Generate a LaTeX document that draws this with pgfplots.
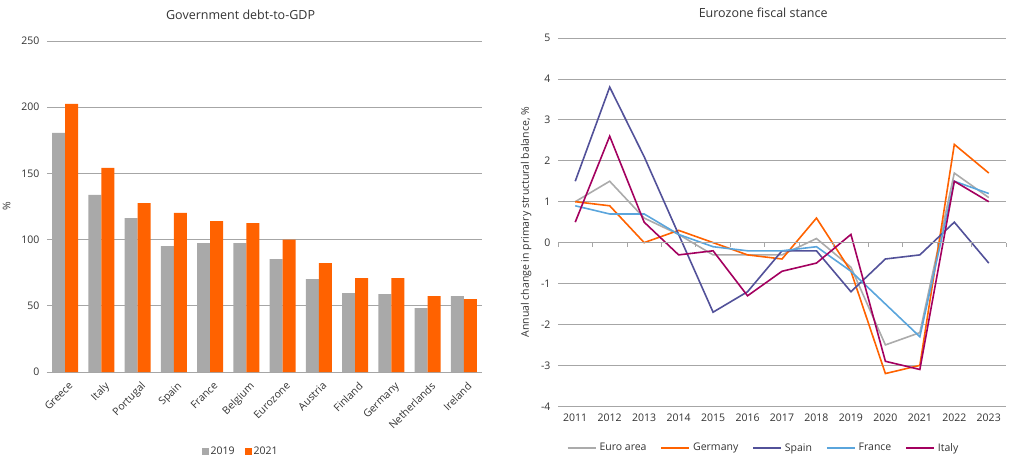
\documentclass[border=0pt]{standalone}
\usepackage{pgfplots}
\pgfplotsset{compat=1.18}
\usepackage{fontspec}
\setmainfont{Open Sans}
\definecolor{barGray}{HTML}{A9A9A9}
\definecolor{ingOrange}{HTML}{FF6200}
\definecolor{lineGray}{HTML}{ABABAB}
\definecolor{spainBlue}{HTML}{525199}
\definecolor{franceBlue}{HTML}{5AA5DC}
\definecolor{italyPurple}{HTML}{A3005F}
\definecolor{gridGray}{HTML}{A6A6A6}
\definecolor{txt}{HTML}{333333}

\pgfplotstableread{
idx y2019 y2021
0 180.6 202.6
1 133.7 154.1
2 116.3 127.6
3 95.1 120.1
4 97.4 114.0
5 97.4 112.5
6 85.3 99.9
7 70.1 82.2
8 59.5 70.9
9 58.8 70.9
10 48.2 57.3
11 57.3 55.0
}\debttable

\pgfplotstableread{
year euro germany spain france italy
2011 1.0 1.0 1.5 0.9 0.5
2012 1.5 0.9 3.8 0.7 2.6
2013 0.6 0.0 2.1 0.7 0.5
2014 0.2 0.3 0.2 0.2 -0.3
2015 -0.3 0.0 -1.7 -0.1 -0.2
2016 -0.3 -0.3 -1.2 -0.2 -1.3
2017 -0.3 -0.4 -0.2 -0.2 -0.7
2018 0.1 0.6 -0.2 -0.1 -0.5
2019 -0.6 -0.7 -1.2 -0.7 0.2
2020 -2.5 -3.2 -0.4 -1.5 -2.9
2021 -2.2 -3.0 -0.3 -2.3 -3.1
2022 1.7 2.4 0.5 1.5 1.5
2023 1.1 1.7 -0.5 1.2 1.0
}\stancetable

\begin{document}
\begin{tikzpicture}[x=1pt,y=1pt]
\useasboundingbox (0,0) rectangle (1017,467);
\pgfplotsset{
  every axis/.append style={
    font=\fontsize{10.5}{12}\selectfont,
    tick label style={font=\fontsize{10.5}{12}\selectfont, text=txt},
    label style={font=\fontsize{10.5}{12}\selectfont, text=txt},
    title style={font=\fontsize{12.5}{14}\selectfont, text=txt},
    /pgf/number format/assume math mode=true,
  }
}
% ---------------- Left chart
\begin{axis}[
  at={(47pt,95pt)}, anchor=south west,
  scale only axis, width=435pt, height=331pt,
  ybar=0pt, bar width=13pt,
  xmin=-0.5, xmax=11.5, ymin=0, ymax=250,
  xtick={0,...,11},
  xticklabels={Greece,Italy,Portugal,Spain,France,Belgium,Eurozone,Austria,Finland,Germany,Netherlands,Ireland},
  x tick label style={rotate=45, anchor=north east, xshift=2pt, yshift=-2pt},
  major x tick style={draw=none},
  extra x ticks={-0.5,0.5,1.5,2.5,3.5,4.5,5.5,6.5,7.5,8.5,9.5,10.5,11.5},
  extra x tick labels={},
  extra x tick style={major tick length=4pt, tick align=outside, tick style={gridGray, draw=gridGray}, grid=none},
  ytick={0,50,100,150,200,250},
  ymajorgrids, grid style={gridGray, line width=0.8pt},
  major y tick style={draw=none},
  axis lines*=left,
  x axis line style={gridGray, line width=0.8pt, -},
  y axis line style={draw=none},
  yticklabel style={xshift=-4pt},
  ylabel={\%},
  ylabel style={at={(axis description cs:0,0.5)}, anchor=south, yshift=33pt},
  title={Government debt-to-GDP},
  title style={at={(axis description cs:0.445,1)}, anchor=south, yshift=12pt},
  legend style={at={(axis description cs:0.445,-0.239)}, anchor=center, draw=none, fill=none,
    legend columns=-1, font=\fontsize{10.5}{12}\selectfont, text=txt,
    /tikz/every even column/.append style={column sep=8pt}},
  legend image code/.code={\fill[#1] (0pt,-3.4pt) rectangle (7pt,3.4pt);},
]
\addplot[fill=barGray, draw=none] table[x=idx, y=y2019] {\debttable};
\addplot[fill=ingOrange, draw=none] table[x=idx, y=y2021] {\debttable};
\legend{2019,2021}
\end{axis}

% ---------------- Right chart
\begin{axis}[
  at={(558pt,60.7pt)}, anchor=south west,
  scale only axis, width=448pt, height=368.3pt,
  xmin=2010.5, xmax=2023.5, ymin=-4, ymax=5,
  xtick={2011,...,2023},
  ytick={-4,...,5},
  /pgf/number format/1000 sep={},
  ymajorgrids, grid style={gridGray, line width=0.8pt},
  tick style={draw=none},
  axis line style={draw=none},
  xticklabel style={yshift=-4pt},
  yticklabel style={xshift=-4pt},
  ylabel={Annual change in primary structural balance, \%},
  ylabel style={at={(axis description cs:0,0.5)}, anchor=south, yshift=23pt},
  title={Eurozone fiscal stance},
  title style={at={(axis description cs:0.458,1)}, anchor=south, yshift=11pt},
  legend style={at={(axis description cs:0.459,-0.113)}, anchor=center, draw=none, fill=none,
    legend columns=-1, font=\fontsize{10.5}{12}\selectfont, text=txt,
    /tikz/every even column/.append style={column sep=12pt},
    /tikz/every odd column/.append style={column sep=1pt}},
  legend image code/.code={\draw[#1] (0pt,0pt) -- (28pt,0pt);},
  every axis plot/.append style={line width=1.6pt, mark=none},
]
\addplot[lineGray] table[x=year, y=euro] {\stancetable};
\addplot[ingOrange] table[x=year, y=germany] {\stancetable};
\addplot[spainBlue] table[x=year, y=spain] {\stancetable};
\addplot[franceBlue] table[x=year, y=france] {\stancetable};
\addplot[italyPurple] table[x=year, y=italy] {\stancetable};
\legend{Euro area,Germany,Spain,France,Italy}
\end{axis}
% zero line with boundary ticks
\begin{axis}[
  at={(558pt,60.7pt)}, anchor=south west,
  scale only axis, width=448pt, height=368.3pt,
  xmin=2010.5, xmax=2023.5, ymin=-4, ymax=5,
  axis x line=middle, axis y line=none,
  x axis line style={gridGray, line width=0.8pt, -},
  xtick={2010.5,2011.5,...,2023.5},
  xticklabels={},
  ytick=\empty,
  xtick style={gridGray, line width=0.8pt},
  tick align=outside, major tick length=4pt,
]
\end{axis}
\end{tikzpicture}
\end{document}
